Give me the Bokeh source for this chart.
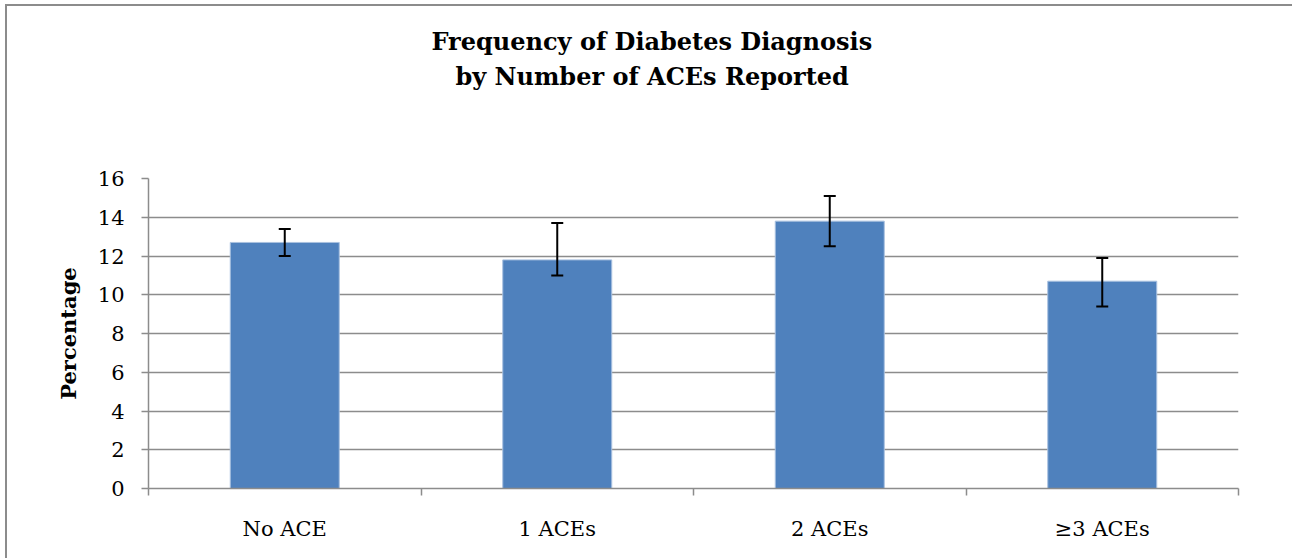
from bokeh.plotting import figure
from bokeh.models import ColumnDataSource, Whisker, FixedTicker, Range1d, Title
from bokeh.embed import file_html
from bokeh.resources import INLINE

categories = ["No ACE", "1 ACEs", "2 ACEs", "\u22653 ACEs"]
percentages = [12.7, 11.8, 13.8, 10.7]
err_upper = [13.4, 13.7, 15.1, 11.9]
err_lower = [12.0, 11.0, 12.5, 9.4]
y_ticks = [0, 2, 4, 6, 8, 10, 12, 14, 16]
title_lines = ["Frequency of Diabetes Diagnosis", "by Number of ACEs Reported"]

xpos = [i + 0.5 for i in range(len(categories))]
src = ColumnDataSource(dict(x=xpos, y=percentages, upper=err_upper, lower=err_lower))

SERIF = "DejaVu Serif"
GRID = "#8c8c8c"

p = figure(width=1287, height=554, output_backend="svg", toolbar_location=None,
           x_range=Range1d(0, len(categories)), y_range=Range1d(0, 16),
           min_border_left=141, min_border_right=56, min_border_top=172, min_border_bottom=72,
           styles={"border-top": "2px solid #8c8c8c", "border-left": "2px solid #8c8c8c",
                   "margin-left": "5px", "margin-top": "4px"})
p.title = None
# panels stack outward from the frame: spacer, second line, first line
p.add_layout(Title(text=" ", text_font_size="1px", standoff=83), "above")
p.add_layout(Title(text=title_lines[1], align="left", offset=307, text_font=SERIF,
                   text_font_size="24px", text_font_style="bold", text_color="black",
                   standoff=4), "above")
p.add_layout(Title(text=title_lines[0], align="left", offset=283, text_font=SERIF,
                   text_font_size="24px", text_font_style="bold", text_color="black",
                   standoff=4), "above")

p.vbar(x="x", top="y", width=0.4, bottom=0, source=src, fill_color="#4F81BD",
       line_color="#a9c1e0", line_width=1)
w = Whisker(base="x", upper="upper", lower="lower", source=src, line_color="black",
            line_width=2, level="overlay")
w.upper_head.size = 12
w.lower_head.size = 12
w.upper_head.line_width = 2
w.lower_head.line_width = 2
p.add_layout(w)

p.outline_line_color = None
p.xgrid.visible = False
p.ygrid.ticker = FixedTicker(ticks=y_ticks)
p.ygrid.grid_line_color = GRID
p.ygrid.grid_line_width = 1.5

p.yaxis.ticker = FixedTicker(ticks=y_ticks)
p.yaxis.axis_line_color = GRID
p.yaxis.axis_line_width = 1.5
p.yaxis.major_tick_line_color = GRID
p.yaxis.major_tick_line_width = 1.5
p.yaxis.major_tick_out = 7
p.yaxis.major_tick_in = 0
p.yaxis.minor_tick_line_color = None
p.yaxis.major_label_text_font = SERIF
p.yaxis.major_label_text_font_size = "21px"
p.yaxis.major_label_text_color = "black"
p.yaxis.major_label_standoff = 17
p.yaxis.axis_label = "Percentage"
p.yaxis.axis_label_text_font = SERIF
p.yaxis.axis_label_text_font_size = "21px"
p.yaxis.axis_label_text_font_style = "bold"
p.yaxis.axis_label_text_color = "black"
p.yaxis.axis_label_standoff = 14

p.xaxis.ticker = FixedTicker(ticks=xpos, minor_ticks=list(range(len(categories) + 1)))
p.xaxis.major_label_overrides = {x: c for x, c in zip(xpos, categories)}
p.xaxis.axis_line_color = GRID
p.xaxis.axis_line_width = 1.5
p.xaxis.major_tick_line_color = None
p.xaxis.minor_tick_line_color = GRID
p.xaxis.minor_tick_line_width = 1.5
p.xaxis.minor_tick_out = 7
p.xaxis.minor_tick_in = 0
p.xaxis.major_label_text_font = SERIF
p.xaxis.major_label_text_font_size = "21px"
p.xaxis.major_label_text_color = "black"
p.xaxis.major_label_standoff = 21

open("out.html", "w").write(file_html(p, INLINE))
